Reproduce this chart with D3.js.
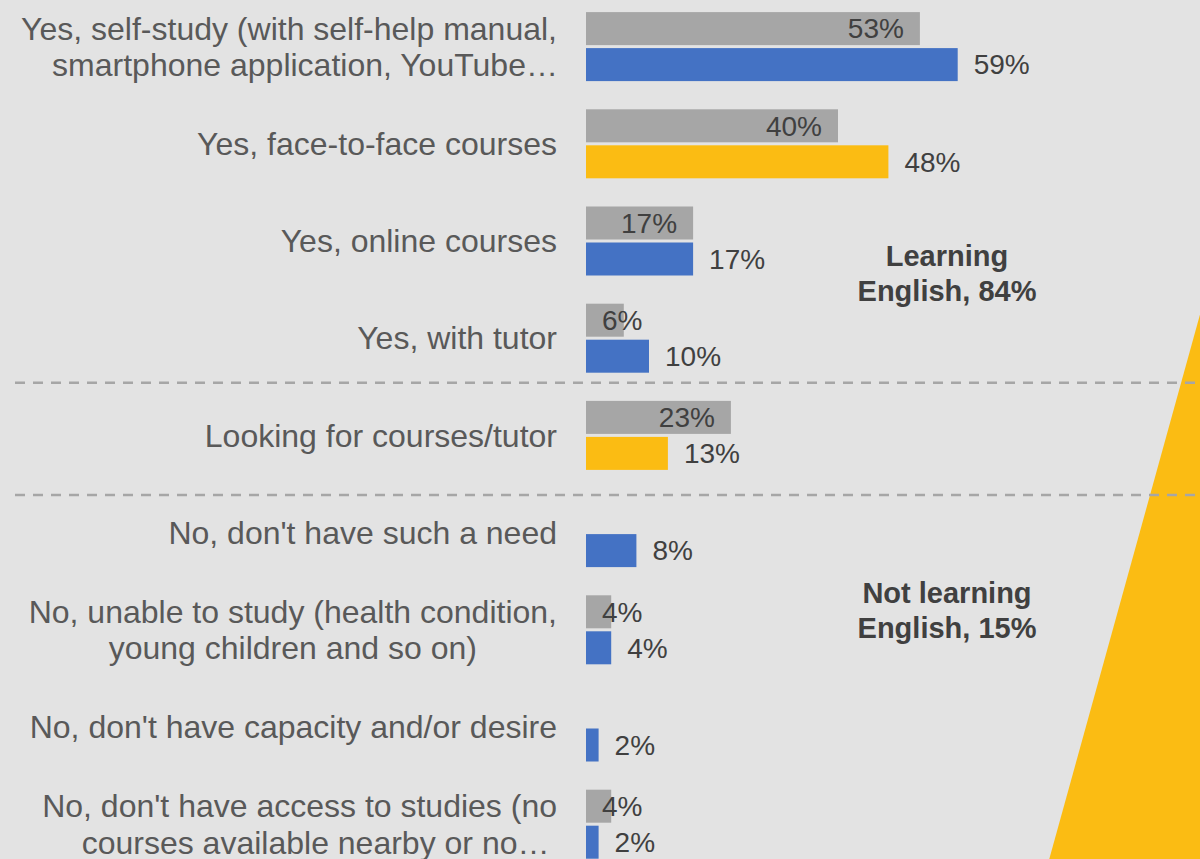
<!DOCTYPE html>
<html lang="en">
<head>
    <meta charset="UTF-8">
    <title>Learning English</title>
    <script src="https://d3js.org/d3.v7.min.js"></script>
    <style>
        html, body { margin: 0; padding: 0; background: #e3e3e3; }
        svg { display: block; font-family: "Liberation Sans", Arial, sans-serif; }
    </style>
</head>
<body>
    <div id="chart"></div>
    <script>
        // Data
        var categories = [
            ["Yes, self-study (with self-help manual,", "smartphone application, YouTube\u2026"],
            ["Yes, face-to-face courses"],
            ["Yes, online courses"],
            ["Yes, with tutor"],
            ["Looking for courses/tutor"],
            ["No, don't have such a need"],
            ["No, unable to study (health condition,", "young children and so on)"],
            ["No, don't have capacity and/or desire"],
            ["No, don't have access to studies (no", "courses available nearby or no\u2026"]
        ];
        var previous = [53, 40, 17, 6, 23, null, 4, null, 4];
        var current = [59, 48, 17, 10, 13, 8, 4, 2, 2];
        var highlighted = [1, 4];   // rows whose current bar is yellow
        var groupNotes = [
            { lines: ["Learning", "English, 84%"], row: 2.33 },
            { lines: ["Not learning", "English, 15%"], row: 5.8 }
        ];

        var width = 1200, height = 859;
        var x0 = 586;

        var svg = d3.select("#chart").append("svg")
            .attr("width", width)
            .attr("height", height);

        svg.append("rect").attr("width", width).attr("height", height).attr("fill", "#e3e3e3");

        // yellow wedge on the right
        svg.append("path")
            .attr("d", "M1201,311L1201,860L1049,860Z")
            .attr("fill", "#fbbc13");

        var keys = d3.range(categories.length);
        var y = d3.scaleBand().domain(keys).range([-2, -2 + 97.2 * keys.length]);
        var ySub = d3.scaleBand().domain(["prev", "curr"]).range([-34.5, 34.5]).paddingInner(3 / 36);
        var x = d3.scaleLinear().domain([0, 100]).range([x0, x0 + 630]);

        function mid(i) { return y(i) + y.bandwidth() / 2; }

        // dashed separators
        [y(4) - 4, y(5) + 11].forEach(function (yy) {
            svg.append("line")
                .attr("x1", 15).attr("x2", width)
                .attr("y1", yy).attr("y2", yy)
                .attr("stroke", "#a6a6a6")
                .attr("stroke-width", 2.5)
                .attr("stroke-dasharray", "10,8");
        });

        var rows = svg.append("g").selectAll("g")
            .data(keys)
            .enter().append("g")
            .attr("transform", function (i) { return "translate(0," + mid(i) + ")"; });

        // previous (grey) bars
        rows.filter(function (i) { return previous[i] != null; })
            .append("rect")
            .attr("x", x(0))
            .attr("y", ySub("prev"))
            .attr("width", function (i) { return x(previous[i]) - x(0); })
            .attr("height", ySub.bandwidth())
            .attr("fill", "#a6a6a6");

        // current bars
        rows.append("rect")
            .attr("x", x(0))
            .attr("y", ySub("curr"))
            .attr("width", function (i) { return x(current[i]) - x(0); })
            .attr("height", ySub.bandwidth())
            .attr("fill", function (i) { return highlighted.indexOf(i) >= 0 ? "#fbbc13" : "#4472c4"; });

        // previous labels, inside end
        rows.filter(function (i) { return previous[i] != null; })
            .append("text")
            .attr("y", ySub("prev") + ySub.bandwidth() / 2)
            .attr("dy", "0.35em")
            .attr("font-size", 28)
            .attr("fill", "#404040")
            .text(function (i) { return previous[i] + "%"; })
            .attr("x", function (i) {
                var w = this.getComputedTextLength();
                return Math.max(x(previous[i]) - 16 - w, x(0) + 16);
            });

        // current labels, outside end
        rows.append("text")
            .attr("x", function (i) { return x(current[i]) + 16; })
            .attr("y", ySub("curr") + ySub.bandwidth() / 2)
            .attr("dy", "0.35em")
            .attr("font-size", 28)
            .attr("fill", "#404040")
            .text(function (i) { return current[i] + "%"; });

        // category labels (lines centred; a trailing ellipsis is not counted)
        var labelRight = x0 - 29;
        rows.each(function (i) {
            var lines = categories[i];
            var g = d3.select(this);
            var texts = lines.map(function (line, k) {
                return g.append("text")
                    .attr("y", (k - (lines.length - 1) / 2) * 36.5)
                    .attr("dy", "0.35em")
                    .attr("font-size", 32)
                    .attr("fill", "#595959")
                    .text(line);
            });
            var maxW = d3.max(texts, function (t) { return t.node().getComputedTextLength(); });
            texts.forEach(function (t) {
                var shift = /\u2026$/.test(t.text()) ? 16 : 0;
                t.attr("text-anchor", "middle").attr("x", labelRight - maxW / 2 + shift);
            });
        });

        // group notes
        groupNotes.forEach(function (n) {
            var cy = y(0) + y.bandwidth() * (n.row + 0.5);
            n.lines.forEach(function (line, k) {
                svg.append("text")
                    .attr("x", 947)
                    .attr("y", cy + (k - 0.5) * 35)
                    .attr("dy", "0.35em")
                    .attr("text-anchor", "middle")
                    .attr("font-size", 29)
                    .attr("font-weight", "bold")
                    .attr("fill", "#404040")
                    .text(line);
            });
        });
    </script>
</body>
</html>
